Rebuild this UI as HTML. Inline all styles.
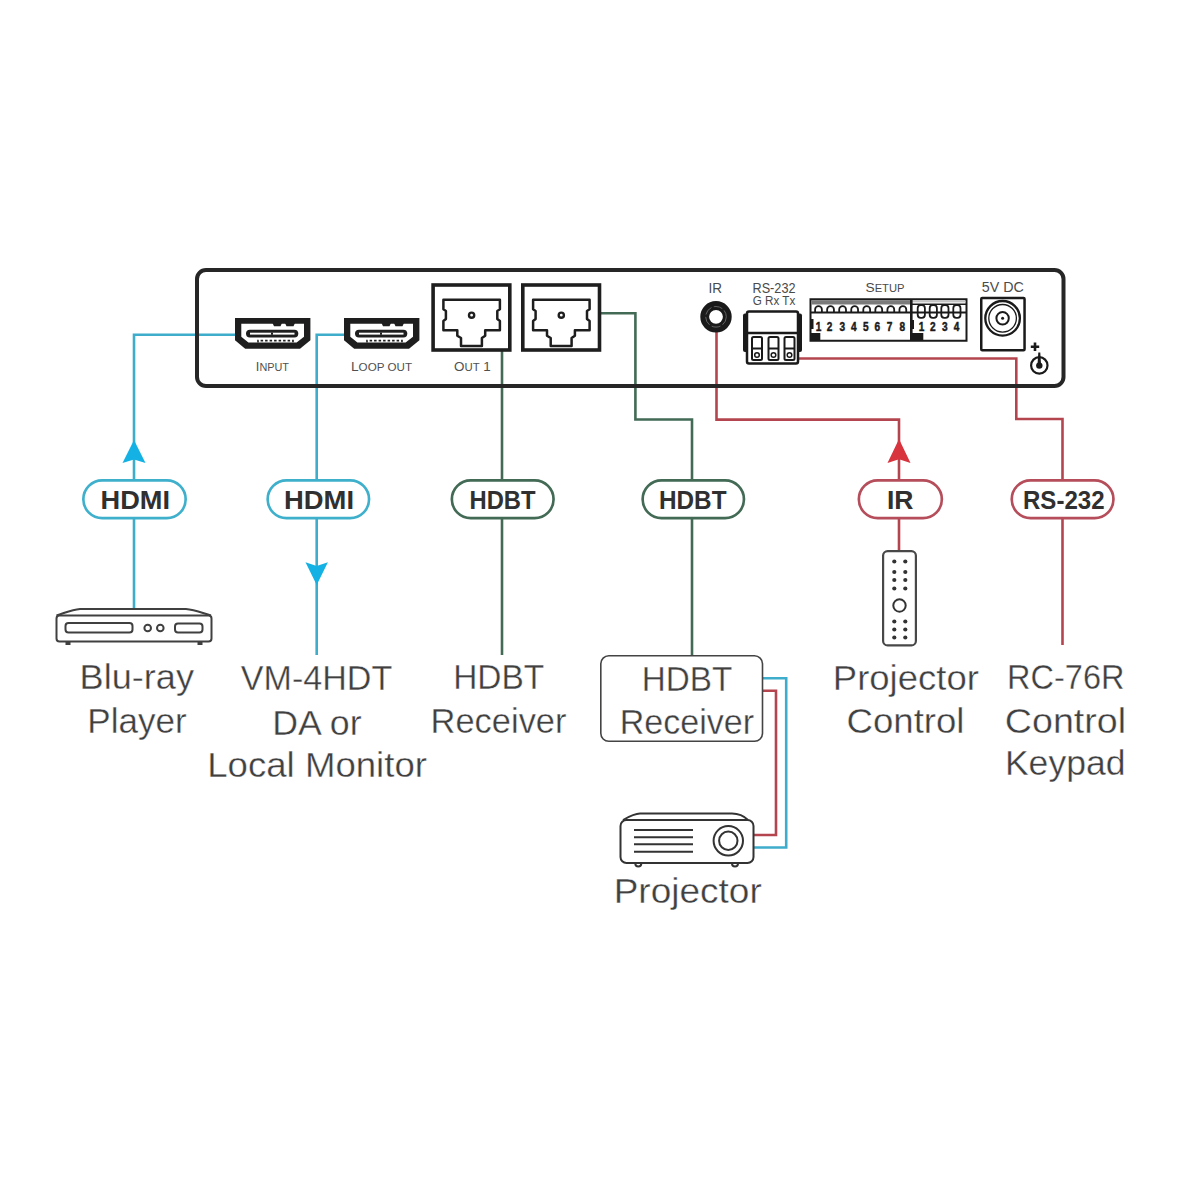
<!DOCTYPE html>
<html><head><meta charset="utf-8">
<style>
html,body{margin:0;padding:0;background:#fff;width:1200px;height:1200px;overflow:hidden}
svg{display:block}
text{font-family:"Liberation Sans",sans-serif}
.lbl{font-size:35px;fill:#404040;stroke:#fff;stroke-width:0.35px}
.pl{font-size:26px;font-weight:bold;fill:#303030}
.dv{fill:#4a4a4a}
</style></head><body>
<svg width="1200" height="1200" viewBox="0 0 1200 1200">
<rect width="1200" height="1200" fill="#fff"/>

<!-- ===== connection lines ===== -->
<g fill="none" stroke-width="2.6" stroke-linejoin="miter">
  <path d="M236,334.8 H134 V609" stroke="#3eaccb"/>
  <path d="M345,334.8 H316.7 V655" stroke="#3eaccb"/>
  <path d="M502,351 V655" stroke="#426a55"/>
  <path d="M600,313.3 H635.4 V419.5 H692 V655.8" stroke="#426a55"/>
  <path d="M716.5,330 V419.6 H899 V550" stroke="#b4454f"/>
  <path d="M799,358.5 H1016.3 V419 H1062.5 V645" stroke="#b4454f"/>
  <path d="M762.5,678.3 H786.2 V847.5 H754" stroke="#3eaccb"/>
  <path d="M762.5,690.8 H776 V835 H754" stroke="#b4454f"/>
</g>

<!-- arrows -->
<path d="M134,440 L145.5,463 L134,459.5 L122.5,463 Z" fill="#14b2e4"/>
<path d="M316.7,585 L305.5,562.3 L316.7,566 L327.9,562.3 Z" fill="#14b2e4"/>
<path d="M899,439 L910.5,463 L899,459.3 L887.5,463 Z" fill="#d8343e"/>

<!-- ===== device box ===== -->
<rect x="197" y="270" width="866.5" height="116" rx="9" fill="none" stroke="#262626" stroke-width="4"/>

<!-- HDMI ports -->
<g id="hdmi1" transform="translate(235,318)">
  <path d="M0,0 H75.4 V22.3 L65,30.8 H10.2 L0,22.3 Z" fill="#1e1e1e"/>
  <path d="M6.3,5.7 H69 V18.8 L61.6,24.5 H13.4 L6.3,18.8 Z" fill="#fff"/>
  <rect x="11" y="11.7" width="52.3" height="7.8" rx="3.9" fill="#1e1e1e"/>
  <rect x="15" y="14.7" width="44.5" height="1.9" fill="#fff"/>
  <rect x="36" y="14.5" width="2" height="2.3" fill="#1e1e1e"/>
  <path d="M37.5,5 H47 L45.5,8.2 H39 Z M50,5 H60 L58.5,8.2 H51.5 Z" fill="#1e1e1e"/>
  <path d="M23,24.5 V22.6 H58 V24.5" fill="none" stroke="#1e1e1e" stroke-width="1.6" stroke-dasharray="2.5 2"/>
</g>
<g transform="translate(344,318)">
  <path d="M0,0 H75.4 V22.3 L65,30.8 H10.2 L0,22.3 Z" fill="#1e1e1e"/>
  <path d="M6.3,5.7 H69 V18.8 L61.6,24.5 H13.4 L6.3,18.8 Z" fill="#fff"/>
  <rect x="11" y="11.7" width="52.3" height="7.8" rx="3.9" fill="#1e1e1e"/>
  <rect x="15" y="14.7" width="44.5" height="1.9" fill="#fff"/>
  <rect x="36" y="14.5" width="2" height="2.3" fill="#1e1e1e"/>
  <path d="M37.5,5 H47 L45.5,8.2 H39 Z M50,5 H60 L58.5,8.2 H51.5 Z" fill="#1e1e1e"/>
  <path d="M23,24.5 V22.6 H58 V24.5" fill="none" stroke="#1e1e1e" stroke-width="1.6" stroke-dasharray="2.5 2"/>
</g>
<text class="dv" style="fill:#505050" x="255.8" y="371" font-size="13" textLength="33.2" lengthAdjust="spacingAndGlyphs">I<tspan font-size="11">NPUT</tspan></text>
<text class="dv" style="fill:#505050" x="351" y="371" font-size="13" textLength="61" lengthAdjust="spacingAndGlyphs">L<tspan font-size="11">OOP OUT</tspan></text>
<text class="dv" style="fill:#505050" x="454" y="371" font-size="13" textLength="36.8" lengthAdjust="spacingAndGlyphs">O<tspan font-size="11">UT</tspan> 1</text>

<!-- RJ45 ports -->
<g id="rj1">
  <rect x="433.1" y="285" width="76.7" height="65" fill="none" stroke="#1e1e1e" stroke-width="3.6"/>
  <path d="M443.4,299.8 H499.9 V309.3 L497.3,311 V319 L499.9,321 V330.2 H485.2 V335.7 L481.9,338 V346 H461 V338 L457.3,335.7 V330.2 H443.4 V321 L445.9,319 V311 L443.4,309.3 Z" fill="none" stroke="#1e1e1e" stroke-width="2.5" stroke-linejoin="round"/>
  <circle cx="471.6" cy="315.2" r="2.6" fill="none" stroke="#1e1e1e" stroke-width="2.4"/>
</g>
<g transform="translate(89.7,0)">
  <rect x="433.1" y="285" width="76.7" height="65" fill="none" stroke="#1e1e1e" stroke-width="3.6"/>
  <path d="M443.4,299.8 H499.9 V309.3 L497.3,311 V319 L499.9,321 V330.2 H485.2 V335.7 L481.9,338 V346 H461 V338 L457.3,335.7 V330.2 H443.4 V321 L445.9,319 V311 L443.4,309.3 Z" fill="none" stroke="#1e1e1e" stroke-width="2.5" stroke-linejoin="round"/>
  <circle cx="471.6" cy="315.2" r="2.6" fill="none" stroke="#1e1e1e" stroke-width="2.4"/>
</g>

<!-- IR jack -->
<text class="dv" x="708.5" y="292.5" font-size="14" textLength="13.5" lengthAdjust="spacingAndGlyphs">IR</text>
<circle cx="716" cy="316.8" r="11.3" fill="none" stroke="#1a1a1a" stroke-width="8.8"/>
<circle cx="716" cy="316.8" r="10.3" fill="none" stroke="#6a6a6a" stroke-width="0.9" stroke-dasharray="9 2.5"/>

<!-- RS-232 -->
<text class="dv" x="752.5" y="292.5" font-size="14.5" textLength="43" lengthAdjust="spacingAndGlyphs">RS-232</text>
<text class="dv" x="752.8" y="304.5" font-size="12.5" textLength="42.5" lengthAdjust="spacingAndGlyphs">G Rx Tx</text>
<g stroke="#1a1a1a" fill="none">
  <rect x="743" y="313.5" width="59" height="38.5" fill="#1a1a1a" stroke="none" rx="2"/>
  <rect x="747" y="311.5" width="51" height="52" rx="2" fill="#fff" stroke-width="2.5"/>
  <line x1="747" y1="333" x2="798" y2="333" stroke-width="2.5"/>
  <rect x="752" y="337" width="10" height="23" rx="1.5" stroke-width="2"/>
  <rect x="768.5" y="337" width="10" height="23" rx="1.5" stroke-width="2"/>
  <rect x="784.5" y="337" width="10" height="23" rx="1.5" stroke-width="2"/>
  <line x1="752" y1="348.5" x2="762" y2="348.5" stroke-width="2"/>
  <line x1="768.5" y1="348.5" x2="778.5" y2="348.5" stroke-width="2"/>
  <line x1="784.5" y1="348.5" x2="794.5" y2="348.5" stroke-width="2"/>
  <circle cx="757" cy="355" r="2.3" stroke-width="1.5"/>
  <circle cx="773.5" cy="355" r="2.3" stroke-width="1.5"/>
  <circle cx="789.5" cy="355" r="2.3" stroke-width="1.5"/>
</g>

<!-- SETUP DIP -->
<text class="dv" x="865.5" y="291.8" font-size="13.5" textLength="39" lengthAdjust="spacingAndGlyphs">S<tspan font-size="11">ETUP</tspan></text>
<g>
  <rect x="810.5" y="299.25" width="156" height="41.5" fill="#fff" stroke="#1a1a1a" stroke-width="2"/>
  <rect x="811.5" y="300.2" width="99.5" height="4.3" fill="#7a7a7a"/>
  <line x1="911" y1="301.8" x2="966" y2="301.8" stroke="#aaa" stroke-width="1"/>
  <line x1="911" y1="304.3" x2="966" y2="304.3" stroke="#1a1a1a" stroke-width="1.5"/>
  <line x1="811" y1="312.5" x2="966" y2="312.5" stroke="#1a1a1a" stroke-width="2"/>
  <line x1="911.3" y1="299" x2="911.3" y2="341" stroke="#1a1a1a" stroke-width="2.6"/>
  <g fill="none" stroke="#1a1a1a" stroke-width="1.8">
    <path d="M815.10,312.5 V309.4 a3.4,3.2 0 0 1 6.8,0 V312.5"/>
    <path d="M827.15,312.5 V309.4 a3.4,3.2 0 0 1 6.8,0 V312.5"/>
    <path d="M839.20,312.5 V309.4 a3.4,3.2 0 0 1 6.8,0 V312.5"/>
    <path d="M851.25,312.5 V309.4 a3.4,3.2 0 0 1 6.8,0 V312.5"/>
    <path d="M863.30,312.5 V309.4 a3.4,3.2 0 0 1 6.8,0 V312.5"/>
    <path d="M875.35,312.5 V309.4 a3.4,3.2 0 0 1 6.8,0 V312.5"/>
    <path d="M887.40,312.5 V309.4 a3.4,3.2 0 0 1 6.8,0 V312.5"/>
    <path d="M899.45,312.5 V309.4 a3.4,3.2 0 0 1 6.8,0 V312.5"/>
    <rect x="917.70" y="305.2" width="7.2" height="12.6" rx="3"/>
    <rect x="929.70" y="305.2" width="7.2" height="12.6" rx="3"/>
    <rect x="941.30" y="305.2" width="7.2" height="12.6" rx="3"/>
    <rect x="953.30" y="305.2" width="7.2" height="12.6" rx="3"/>
  </g>
  <g font-size="13" font-weight="bold" fill="#1a1a1a" stroke="#1a1a1a" stroke-width="0.5">
    <text x="815.7" y="331" textLength="5.6" lengthAdjust="spacingAndGlyphs">1</text>
    <text x="826.8" y="331" textLength="5.6" lengthAdjust="spacingAndGlyphs">2</text>
    <text x="839.4" y="331" textLength="5.6" lengthAdjust="spacingAndGlyphs">3</text>
    <text x="851.0" y="331" textLength="5.6" lengthAdjust="spacingAndGlyphs">4</text>
    <text x="862.9" y="331" textLength="5.6" lengthAdjust="spacingAndGlyphs">5</text>
    <text x="874.5" y="331" textLength="5.6" lengthAdjust="spacingAndGlyphs">6</text>
    <text x="886.8" y="331" textLength="5.6" lengthAdjust="spacingAndGlyphs">7</text>
    <text x="899.5" y="331" textLength="5.6" lengthAdjust="spacingAndGlyphs">8</text>
    <text x="918.8" y="331" textLength="5.6" lengthAdjust="spacingAndGlyphs">1</text>
    <text x="930.1" y="331" textLength="5.6" lengthAdjust="spacingAndGlyphs">2</text>
    <text x="942.1" y="331" textLength="5.6" lengthAdjust="spacingAndGlyphs">3</text>
    <text x="953.8" y="331" textLength="5.6" lengthAdjust="spacingAndGlyphs">4</text>
  </g>
  <rect x="811" y="333" width="9.3" height="7" fill="#1a1a1a"/>
  <rect x="912" y="333" width="11.3" height="7" fill="#1a1a1a"/>
  <rect x="811" y="319" width="2.5" height="10" fill="#1a1a1a"/>
  <rect x="912" y="320" width="2" height="9" fill="#1a1a1a"/>
</g>
<!-- 5V DC -->
<text class="dv" x="981.75" y="291.8" font-size="14" textLength="42" lengthAdjust="spacingAndGlyphs">5V DC</text>
<rect x="981.25" y="298" width="43.3" height="52.25" fill="none" stroke="#1a1a1a" stroke-width="2.5" rx="1"/>
<circle cx="1002.6" cy="318.3" r="17.3" fill="none" stroke="#1a1a1a" stroke-width="2.3"/>
<circle cx="1002.6" cy="318.3" r="13.8" fill="none" stroke="#1a1a1a" stroke-width="1.3"/>
<circle cx="1002.6" cy="318.3" r="6.2" fill="none" stroke="#1a1a1a" stroke-width="2"/>
<circle cx="1002.6" cy="318.3" r="1.5" fill="#1a1a1a"/>
<path d="M1030.8,346.8 H1039.2 M1035,342.6 V351" stroke="#1a1a1a" stroke-width="2.6"/>
<circle cx="1039.3" cy="365.4" r="8.2" fill="none" stroke="#1a1a1a" stroke-width="2.2"/>
<circle cx="1039.3" cy="365.6" r="3.2" fill="#1a1a1a"/>
<path d="M1038.3,352.6 H1040.3 L1041,364 H1037.6 Z" fill="#1a1a1a"/>

<!-- ===== pills ===== -->
<g fill="#fff" stroke-width="2.7">
  <rect x="83.35" y="480.35" width="102.3" height="37.8" rx="18.9" stroke="#3fb0cc"/>
  <rect x="267.65" y="480.35" width="101.4" height="37.8" rx="18.9" stroke="#3fb0cc"/>
  <rect x="451.85" y="480.35" width="101.7" height="37.8" rx="18.9" stroke="#426a55"/>
  <rect x="642.65" y="480.35" width="101.3" height="37.8" rx="18.9" stroke="#426a55"/>
  <rect x="858.85" y="480.35" width="83" height="37.8" rx="18.9" stroke="#b54d5a"/>
  <rect x="1011.75" y="480.35" width="101.7" height="37.8" rx="18.9" stroke="#b54d5a"/>
</g>
<g class="pl">
  <text x="100.5" y="508.8" textLength="69.5" lengthAdjust="spacingAndGlyphs">HDMI</text>
  <text x="284.0" y="509.0" textLength="70.0" lengthAdjust="spacingAndGlyphs">HDMI</text>
  <text x="469.5" y="509.0" textLength="66.0" lengthAdjust="spacingAndGlyphs">HDBT</text>
  <text x="659.0" y="509.0" textLength="67.5" lengthAdjust="spacingAndGlyphs">HDBT</text>
  <text x="887.0" y="509.0" textLength="26.5" lengthAdjust="spacingAndGlyphs">IR</text>
  <text x="1023.0" y="509.0" textLength="81.5" lengthAdjust="spacingAndGlyphs">RS-232</text>
</g>

<!-- ===== Blu-ray player ===== -->
<g fill="none" stroke="#404040" stroke-width="2">
  <path d="M56.5,615.5 C66,612.5 72,609.5 80,609 H186 C194,609.5 201,612.5 211,615.5"/>
  <rect x="56.5" y="615.5" width="155" height="26" rx="3"/>
  <rect x="65.5" y="623" width="67" height="9.5" rx="3"/>
  <circle cx="147.7" cy="628" r="3.3"/>
  <circle cx="160.3" cy="628" r="3.3"/>
  <rect x="175" y="623.5" width="27.5" height="9" rx="3"/>
</g>
<rect x="65.5" y="641.5" width="5" height="3.5" fill="#404040"/>
<rect x="197.5" y="641.5" width="5" height="3.5" fill="#404040"/>

<!-- ===== HDBT receiver box ===== -->
<rect x="600.8" y="655.8" width="161.7" height="85.5" rx="8" fill="none" stroke="#444" stroke-width="1.6"/>

<!-- ===== Projector ===== -->
<g fill="none" stroke="#333" stroke-width="2">
  <path d="M623,820 C630,816 636,813.5 640,813.5 H732 C738,813.5 744,816 748,820"/>
  <rect x="620.5" y="820" width="133" height="43" rx="6"/>
  <circle cx="728.3" cy="840.8" r="14.7"/>
  <circle cx="728.3" cy="840.8" r="9.2"/>
  <path d="M635.3,863.5 a3,3 0 0 0 6,0 M732,863.5 a3,3 0 0 0 6,0"/>
</g>
<g stroke="#333" stroke-width="2">
  <line x1="634" y1="830" x2="693" y2="830"/>
  <line x1="634" y1="837.2" x2="693" y2="837.2"/>
  <line x1="634" y1="844.3" x2="693" y2="844.3"/>
  <line x1="634" y1="851.7" x2="693" y2="851.7"/>
</g>

<!-- ===== Remote ===== -->
<rect x="883.1" y="551.1" width="32.8" height="94.3" rx="4.5" fill="#fff" stroke="#484848" stroke-width="2.2"/>
<g fill="#333">
  <circle cx="894.3" cy="561.5" r="2.1"/><circle cx="905.3" cy="561.5" r="2.1"/>
  <circle cx="894.3" cy="572" r="2.1"/><circle cx="905.3" cy="572" r="2.1"/>
  <circle cx="894.3" cy="580" r="2.1"/><circle cx="905.3" cy="580" r="2.1"/>
  <circle cx="894.3" cy="588.5" r="2.1"/><circle cx="905.3" cy="588.5" r="2.1"/>
  <circle cx="894.3" cy="621.5" r="2.1"/><circle cx="905.3" cy="621.5" r="2.1"/>
  <circle cx="894.3" cy="629.5" r="2.1"/><circle cx="905.3" cy="629.5" r="2.1"/>
  <circle cx="894.3" cy="637.5" r="2.1"/><circle cx="905.3" cy="637.5" r="2.1"/>
</g>
<circle cx="899.5" cy="605.5" r="6.2" fill="none" stroke="#333" stroke-width="2"/>

<!-- ===== labels ===== -->
<g class="lbl">
  <text x="79.6" y="688.9" textLength="114.4" lengthAdjust="spacingAndGlyphs">Blu-ray</text>
  <text x="87.3" y="732.6" textLength="99.4" lengthAdjust="spacingAndGlyphs">Player</text>
  <text x="240.8" y="690.2" textLength="151.4" lengthAdjust="spacingAndGlyphs">VM-4HDT</text>
  <text x="272.2" y="734.6" textLength="89.4" lengthAdjust="spacingAndGlyphs">DA or</text>
  <text x="207.2" y="776.9" textLength="219.8" lengthAdjust="spacingAndGlyphs">Local Monitor</text>
  <text x="453.2" y="688.8" textLength="91.1" lengthAdjust="spacingAndGlyphs">HDBT</text>
  <text x="430.6" y="732.5" textLength="135.9" lengthAdjust="spacingAndGlyphs">Receiver</text>
  <text x="641.8" y="690.6" textLength="90.5" lengthAdjust="spacingAndGlyphs">HDBT</text>
  <text x="619.7" y="734.4" textLength="134.4" lengthAdjust="spacingAndGlyphs">Receiver</text>
  <text x="613.7" y="902.5" textLength="148.1" lengthAdjust="spacingAndGlyphs">Projector</text>
  <text x="832.8" y="690.3" textLength="146.1" lengthAdjust="spacingAndGlyphs">Projector</text>
  <text x="846.5" y="733.0" textLength="118.0" lengthAdjust="spacingAndGlyphs">Control</text>
  <text x="1007.1" y="689.4" textLength="117.4" lengthAdjust="spacingAndGlyphs">RC-76R</text>
  <text x="1004.8" y="733.2" textLength="121.3" lengthAdjust="spacingAndGlyphs">Control</text>
  <text x="1004.9" y="775.2" textLength="120.6" lengthAdjust="spacingAndGlyphs">Keypad</text>
</g>
</svg>
</body></html>
